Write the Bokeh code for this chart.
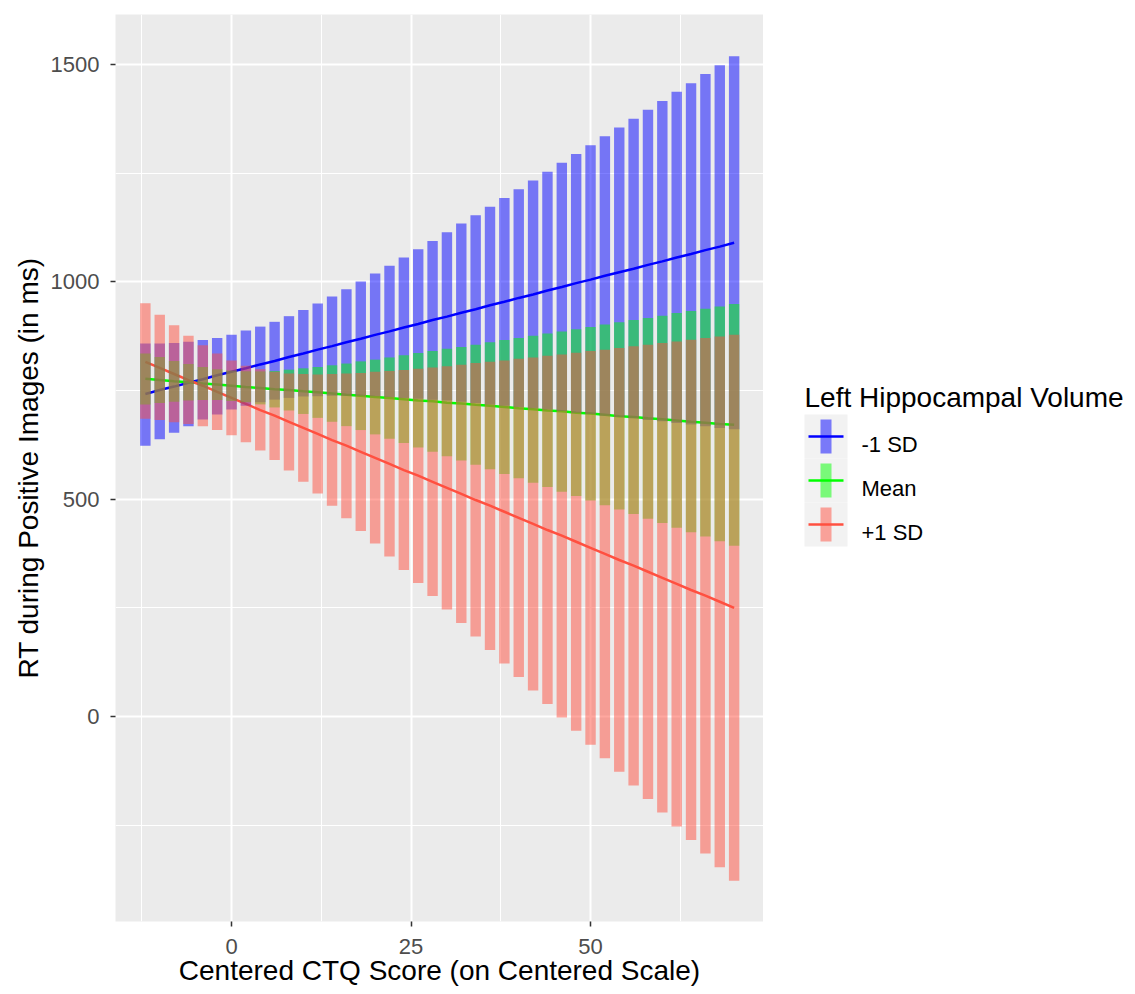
from bokeh.plotting import figure
from bokeh.models import Range1d, FixedTicker, ColumnDataSource
from bokeh.layouts import row
from bokeh.embed import file_html
from bokeh.resources import INLINE
from bokeh.core.properties import value

# ---------------- data ----------------
ctq = [-12, -10, -8, -6, -4, -2, 0, 2, 4, 6, 8, 10, 12, 14, 16, 18, 20, 22, 24, 26, 28,
       30, 32, 34, 36, 38, 40, 42, 44, 46, 48, 50, 52, 54, 56, 58, 60, 62, 64, 66, 68, 70]

group_labels = ["-1 SD", "Mean", "+1 SD"]
group_colors = ["#0000FF", "#00FF00", "#FF5040"]

fit_minus = [742, 751, 759, 768, 776, 785, 793, 801, 810, 818, 827, 835, 844, 852, 861, 869,
             878, 886, 895, 903, 912, 920, 929, 937, 946, 954, 963, 971, 980, 988, 997, 1005,
             1014, 1022, 1030, 1039, 1047, 1056, 1064, 1073, 1081, 1090]
lo_minus = [623, 638, 653, 668, 683, 695, 706, 715, 723, 729, 733, 736, 737, 738, 738, 738,
            737, 735, 733, 731, 729, 727, 724, 721, 718, 715, 712, 709, 706, 703, 699, 696,
            692, 689, 686, 682, 679, 675, 672, 668, 664, 661]
hi_minus = [858, 858, 859, 862, 866, 871, 878, 888, 897, 908, 921, 935, 950, 966, 983, 1001,
            1019, 1037, 1056, 1075, 1094, 1114, 1134, 1153, 1173, 1193, 1213, 1233, 1253, 1274,
            1294, 1314, 1335, 1355, 1375, 1396, 1416, 1437, 1457, 1478, 1498, 1519]

fit_mean = [777, 774, 771, 769, 766, 764, 761, 758, 756, 753, 751, 748, 746, 743, 740, 738,
            735, 733, 730, 727, 725, 722, 720, 717, 715, 712, 709, 707, 704, 702, 699, 697,
            694, 691, 689, 686, 684, 681, 678, 676, 673, 671]
lo_mean = [718, 721, 724, 727, 728, 728, 726, 723, 718, 711, 704, 696, 687, 678, 668, 659,
           649, 639, 629, 619, 609, 599, 589, 579, 569, 558, 548, 538, 528, 517, 507, 497,
           486, 476, 466, 455, 445, 434, 424, 414, 403, 393]
hi_mean = [835, 827, 818, 811, 804, 799, 796, 794, 794, 795, 798, 801, 804, 808, 812, 817,
           821, 826, 831, 836, 841, 846, 850, 855, 861, 866, 871, 876, 881, 886, 891, 896,
           902, 907, 912, 917, 922, 928, 933, 938, 943, 949]

fit_plus = [816, 802, 788, 774, 761, 747, 733, 719, 705, 692, 678, 664, 650, 636, 623, 609,
            595, 581, 567, 554, 540, 526, 512, 498, 485, 471, 457, 443, 429, 416, 402, 388,
            374, 360, 347, 333, 319, 305, 291, 278, 264, 250]
lo_plus = [685, 682, 677, 673, 668, 659, 647, 631, 612, 590, 566, 540, 513, 485, 456, 427,
           398, 368, 337, 307, 277, 246, 215, 184, 153, 122, 91, 60, 29, -2, -33, -65,
           -96, -127, -159, -190, -221, -253, -284, -315, -347, -378]
hi_plus = [951, 924, 900, 876, 854, 835, 819, 807, 799, 793, 789, 788, 787, 788, 789, 790,
           793, 795, 797, 800, 803, 806, 809, 813, 816, 819, 823, 826, 830, 833, 837, 841,
           844, 848, 852, 855, 859, 863, 867, 871, 874, 878]

x_ticks = [0, 25, 50]
x_minor = [-12.5, 12.5, 37.5, 62.5]
y_ticks = [0, 500, 1000, 1500]
y_minor = [-250, 250, 750, 1250]

x_title = "Centered CTQ Score (on Centered Scale)"
y_title = "RT during Positive Images (in ms)"
legend_title = "Left Hippocampal Volume"

FONT = "Liberation Sans"

# ---------------- layout constants (page pixels) ----------------
LEFT, TOP, FW, FH = 115, 14, 648, 907

# ---------------- main panel ----------------
p = figure(frame_width=FW, frame_height=FH,
           x_range=Range1d(-16.16, 74.09), y_range=Range1d(-471.6, 1615.0),
           output_backend="svg", toolbar_location=None,
           min_border_left=LEFT, min_border_right=0, min_border_top=TOP, min_border_bottom=0)
p.background_fill_color = "#EBEBEB"
p.border_fill_color = "white"
p.outline_line_color = None

p.xaxis.ticker = FixedTicker(ticks=x_ticks, minor_ticks=x_minor)
p.yaxis.ticker = FixedTicker(ticks=y_ticks, minor_ticks=y_minor)
p.xgrid.grid_line_color = "white"
p.ygrid.grid_line_color = "white"
p.xgrid.grid_line_width = 2
p.ygrid.grid_line_width = 2
p.xgrid.minor_grid_line_color = "white"
p.ygrid.minor_grid_line_color = "white"
p.xgrid.minor_grid_line_width = 1
p.ygrid.minor_grid_line_width = 1

for ax in (p.xaxis[0], p.yaxis[0]):
    ax.axis_line_color = None
    ax.major_tick_line_color = "#333333"
    ax.major_tick_line_width = 1.5
    ax.major_tick_out = 5
    ax.major_tick_in = 0
    ax.minor_tick_line_color = None
    ax.major_label_text_font = FONT
    ax.major_label_text_font_size = "22px"
    ax.major_label_text_color = "#4D4D4D"
    ax.axis_label_text_font = FONT
    ax.axis_label_text_font_size = "28px"
    ax.axis_label_text_font_style = "normal"
    ax.axis_label_text_color = "black"

p.xaxis.axis_label = x_title
p.yaxis.axis_label = y_title
p.xaxis.major_label_standoff = 12
p.xaxis.axis_label_standoff = -2
p.yaxis.major_label_standoff = 11
p.yaxis.axis_label_standoff = 4

series = [
    (fit_minus, lo_minus, hi_minus),
    (fit_mean, lo_mean, hi_mean),
    (fit_plus, lo_plus, hi_plus),
]

# lines first (they sit under the translucent bars)
for (fit, lo, hi), col in zip(series, group_colors):
    p.line(ctq, fit, line_color=col, line_width=2.5)

for (fit, lo, hi), col in zip(series, group_colors):
    src = ColumnDataSource(dict(x=ctq, lo=lo, hi=hi))
    p.vbar(x="x", bottom="lo", top="hi", width=1.45, source=src,
           fill_color=col, fill_alpha=0.5, line_color=None)

# ---------------- legend panel (coordinates = page pixels) ----------------
LX0 = LEFT + FW
LW = 1135 - LX0
lg = figure(width=LW, frame_height=FH,
            x_range=Range1d(LX0, LX0 + LW), y_range=Range1d(TOP + FH, TOP),
            output_backend="svg", toolbar_location=None,
            x_axis_type=None, y_axis_type=None,
            min_border_left=0, min_border_right=0, min_border_top=TOP, min_border_bottom=0)
lg.grid.visible = False
lg.outline_line_color = None
lg.background_fill_color = "white"
lg.border_fill_color = "white"

lg.text(x=[804], y=[397], text=[legend_title], text_font=value(FONT),
        text_font_size="28px", text_color="black", text_baseline="alphabetic")

key_x0, key_w, key_h, key_top0 = 804, 43, 44, 414
for i, (lab, col) in enumerate(zip(group_labels, group_colors)):
    top = key_top0 + i * key_h
    cy = top + key_h / 2
    cx = key_x0 + key_w / 2
    lg.rect(x=[cx], y=[cy], width=key_w, height=key_h,
            fill_color="#F2F2F2", line_color=None)
    lg.segment(x0=[key_x0 + 4], y0=[cy], x1=[key_x0 + key_w - 4], y1=[cy],
               line_color=col, line_width=2.5)
    lg.rect(x=[cx], y=[cy], width=11, height=key_h - 10,
            fill_color=col, fill_alpha=0.5, line_color=None)
    lg.text(x=[key_x0 + key_w + 14], y=[cy + 8], text=[lab], text_font=value(FONT),
            text_font_size="22px", text_color="black", text_baseline="alphabetic")

layout = row(p, lg)
open("out.html", "w").write(file_html(layout, INLINE))
